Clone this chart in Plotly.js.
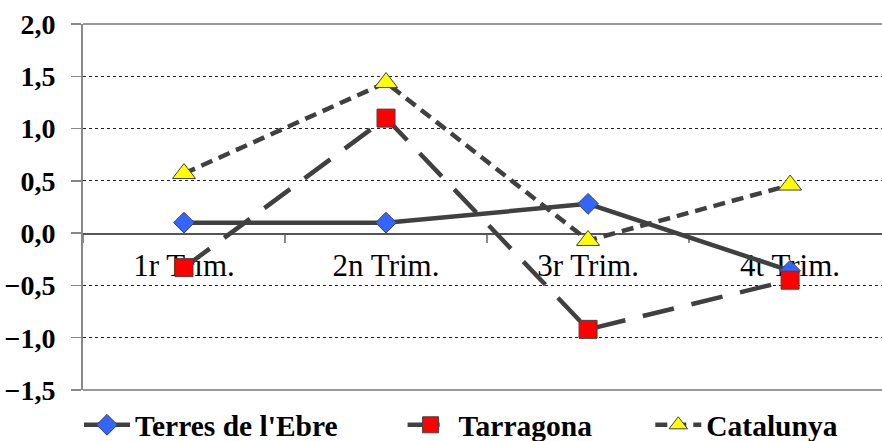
<!DOCTYPE html>
<html>
<head>
<meta charset="utf-8">
<script src="https://cdn.plot.ly/plotly-3.0.1.min.js"></script>
<style>html,body{margin:0;padding:0;background:#fff;}#chart{width:882px;height:441px;}</style>
</head>
<body>
<div id="chart"></div>
<script>
const categories = ['1r Trim.', '2n Trim.', '3r Trim.', '4t Trim.'];
const terresEbre = [0.10, 0.10, 0.28, -0.36];
const tarragona = [-0.33, 1.10, -0.92, -0.45];
const catalunya = [0.57, 1.44, -0.07, 0.46];
const seriesNames = ["Terres de l'Ebre", 'Tarragona', 'Catalunya'];

const lineColor = '#404040';
const serif = '"Liberation Serif", "Times New Roman", Times, serif';
const legendFont = {family: serif, size: 29.5, color: '#000', weight: 700};

const traces = [
  {x: categories, y: terresEbre, name: seriesNames[0], type: 'scatter', mode: 'lines+markers',
   line: {color: lineColor, width: 4.5, dash: 'solid'},
   marker: {symbol: 'diamond', size: 16, color: '#3366FF', line: {color: '#404040', width: 1}},
   legend: 'legend'},
  {x: categories, y: tarragona, name: seriesNames[1], type: 'scatter', mode: 'lines+markers',
   line: {color: lineColor, width: 4.5, dash: '32px,18px'},
   marker: {symbol: 'square', size: 18, color: '#FF0000', line: {color: '#404040', width: 1}},
   legend: 'legend2'},
  {x: categories, y: catalunya, name: seriesNames[2], type: 'scatter', mode: 'lines+markers',
   line: {color: lineColor, width: 4.5, dash: '12px,7px'},
   marker: {symbol: 'triangle-up', size: 20, color: '#FFFF00', line: {color: '#404040', width: 1}},
   legend: 'legend3'}
];

const legendBase = {orientation: 'h', yanchor: 'middle', xanchor: 'left', y: -0.096,
  font: legendFont, bgcolor: 'rgba(0,0,0,0)', borderwidth: 0, itemwidth: 46};

const layout = {
  width: 882, height: 441,
  margin: {l: 83, r: 0, t: 24, b: 51, autoexpand: false},
  paper_bgcolor: '#fff', plot_bgcolor: '#fff',
  separators: ',.',
  showlegend: true,
  legend: Object.assign({}, legendBase, {x: -0.005}),
  legend2: Object.assign({}, legendBase, {x: 0.400}),
  legend3: Object.assign({}, legendBase, {x: 0.710}),
  xaxis: {
    type: 'category', categoryorder: 'array', categoryarray: categories,
    range: [-0.5, 3.455], anchor: 'free', position: 1.5 / 3.5,
    showline: true, linecolor: '#555', linewidth: 1.5,
    ticks: 'outside', tickson: 'boundaries', ticklen: 8, tickcolor: '#888', tickwidth: 1.5,
    showgrid: false, zeroline: false, layer: 'below traces',
    tickfont: {family: serif, size: 31, color: '#000'},
    ticklabelstandoff: 4
  },
  yaxis: {
    range: [-1.5, 2.0], dtick: 0.5, tick0: 0, tickformat: '.1f',
    showline: true, linecolor: '#888', linewidth: 2,
    ticks: 'outside', ticklen: 10, tickcolor: '#888', tickwidth: 1.5,
    showgrid: true, gridcolor: '#222', gridwidth: 1, griddash: 'dot',
    zeroline: false, layer: 'below traces',
    tickfont: {family: serif, size: 28, color: '#000', weight: 700},
    ticklabelstandoff: 10
  },
  shapes: [
    {type: 'line', xref: 'paper', yref: 'paper', x0: 0, x1: 1, y0: 1, y1: 1, line: {color: '#999', width: 2}, layer: 'between'},
    {type: 'line', xref: 'paper', yref: 'paper', x0: 0, x1: 1, y0: 0, y1: 0, line: {color: '#999', width: 2}, layer: 'between'}
  ]
};

Plotly.newPlot('chart', traces, layout, {staticPlot: true, displayModeBar: false});
</script>
</body>
</html>
